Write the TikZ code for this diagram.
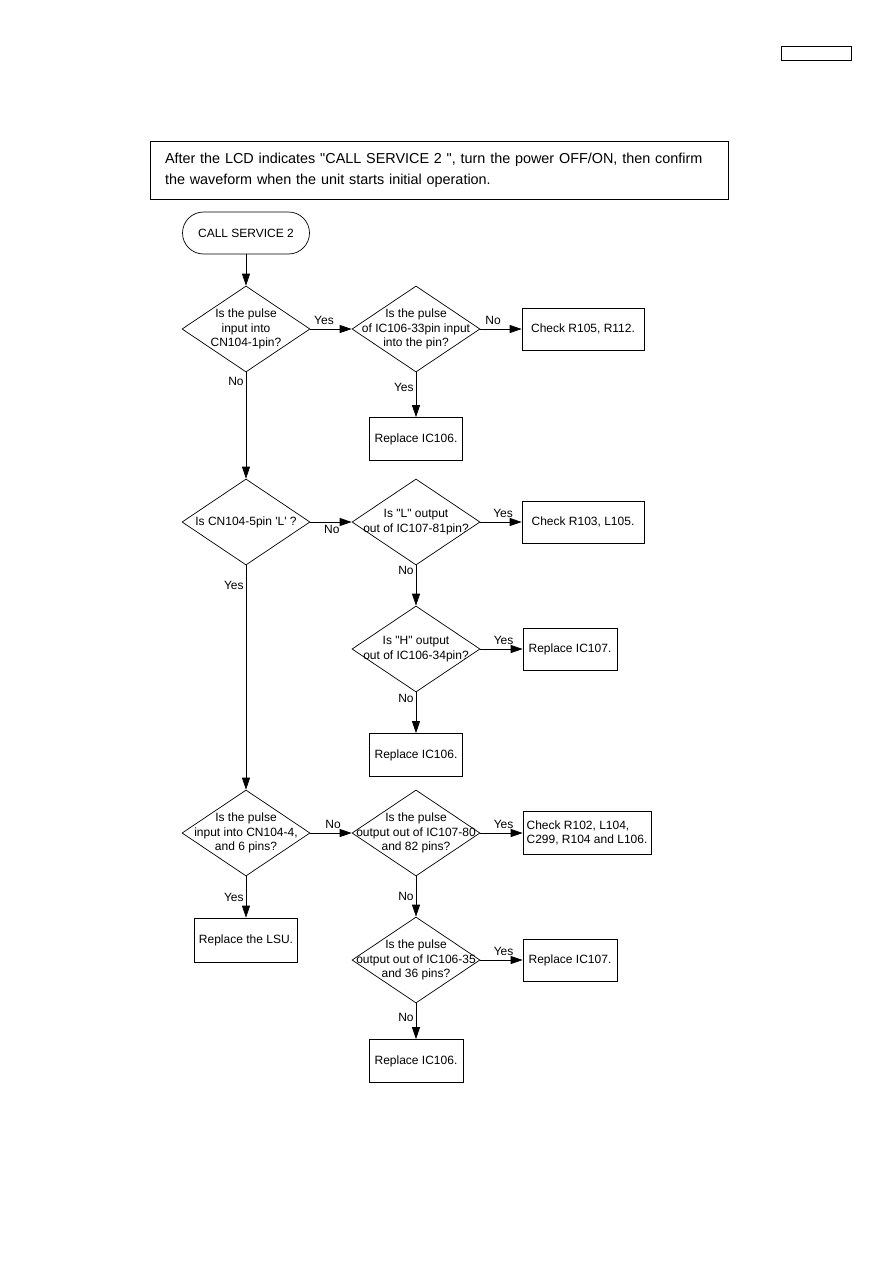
\documentclass[tikz,border=0pt]{standalone}
\usepackage{fontspec}
\setmainfont{Liberation Sans}
\usetikzlibrary{arrows.meta, shapes.geometric}

\begin{document}
\begin{tikzpicture}[x=1pt, y=-1pt, node distance={170pt}, line width=0.7pt,
    decision/.style = {draw, diamond, minimum width=128pt, minimum height=86pt, inner sep=0pt},
    qtext/.style = {align=center, font=\fontsize{12}{14.5}\selectfont, inner sep=0pt},
    box/.style = {draw, rectangle, minimum height=42pt, inner sep=0pt, align=center, font=\fontsize{12}{14.5}\selectfont},
    term/.style = {draw, rectangle, rounded corners=21pt, minimum width=127pt, minimum height=42pt, font=\fontsize{12}{14.5}\selectfont},
    arr/.style = {-{Triangle[length=12pt, width=8pt]}},
    lbl/.style = {font=\fontsize{12}{14}\selectfont, inner sep=2pt}]
    \useasboundingbox (0,0) rectangle (893,1263);

    \node[draw, minimum width=70pt, minimum height=14pt, inner sep=0pt] (pagebox) at (816,53) {};
    \node[draw, text width=548pt, inner xsep=15pt, minimum height=58pt, align=left, font=\fontsize{14.4}{21}\selectfont] (note) at (439,170)
        {After the LCD indicates \textquotedbl CALL SERVICE 2 \textquotedbl, turn the power OFF/ON, then confirm\\the waveform when the unit starts initial operation.};

    \node[term] (start) at (246,233) {CALL SERVICE 2};

    % first row
    \node[decision] (d1) [below of=start, node distance=96pt] {};
    \node[decision] (d2) [right of=d1] {};
    \node[box, minimum width=122pt] (b1) [right of=d2, node distance=167pt] {Check R105, R112.};
    \node[box, minimum width=93pt, minimum height=43pt] (r1) [below of=d2, node distance=110pt] {Replace IC106.};
    \node[qtext] (d1t) at (d1) {Is the pulse\\input into\\CN104-1pin?};
    \node[qtext] (d2t) at (d2) {Is the pulse\\of IC106-33pin input\\into the pin?};

    % second row
    \node[decision] (d3) [below of=d1, node distance=193pt] {};
    \node[decision] (d4) [right of=d3] {};
    \node[box, minimum width=122pt] (b2) [right of=d4, node distance=167pt] {Check R103, L105.};
    \node[decision] (d5) [below of=d4, node distance=127pt] {};
    \node[box, minimum width=94pt] (b3) [right of=d5, node distance=154pt] {Replace IC107.};
    \node[box, minimum width=93pt, minimum height=43pt] (r2) [below of=d5, node distance=106pt] {Replace IC106.};
    \node[qtext] (d3t) at (d3) {Is CN104-5pin \textquotesingle L\textquotesingle\ ?};
    \node[qtext] (d4t) at (d4) {Is \textquotedbl L\textquotedbl\ output\\out of IC107-81pin?};
    \node[qtext] (d5t) at (d5) {Is \textquotedbl H\textquotedbl\ output\\out of IC106-34pin?};

    % third row
    \node[decision] (d6) [below of=d3, node distance=311pt] {};
    \node[decision] (d7) [right of=d6] {};
    \node[box, minimum width=128pt, minimum height=43pt, align=left] (b4) [right of=d7, node distance=171pt] {Check R102, L104,\\C299, R104 and L106.};
    \node[box, minimum width=103pt, minimum height=44pt] (lsu) [below of=d6, node distance=107pt] {Replace the LSU.};
    \node[decision] (d8) [below of=d7, node distance=127pt] {};
    \node[box, minimum width=94pt] (b5) [right of=d8, node distance=154pt] {Replace IC107.};
    \node[box, minimum width=94pt, minimum height=43pt] (r3) [below of=d8, node distance=101pt] {Replace IC106.};
    \node[qtext] (d6t) at (d6) {Is the pulse\\input into CN104-4,\\and 6 pins?};
    \node[qtext] (d7t) at (d7) {Is the pulse\\output out of IC107-80\\and 82 pins?};
    \node[qtext] (d8t) at (d8) {Is the pulse\\output out of IC106-35\\and 36 pins?};

    \path[arr] (start) edge (d1);
    \path[arr] (d1) edge node[lbl, above=2pt, pos=.33] {Yes} (d2);
    \path[arr] (d2) edge node[lbl, above=2pt, pos=.31] {No} (b1);
    \path[arr] (d2) edge node[lbl, left, pos=.33] {Yes} (r1);
    \path[arr] (d1) edge node[lbl, left, pos=.09] {No} (d3);

    \path[arr] (d3) edge node[lbl, below=1pt, pos=.52] {No} (d4);
    \path[arr] (d4) edge node[lbl, above=2pt, pos=.55] {Yes} (b2);
    \path[arr] (d4) edge node[lbl, left, pos=.12] {No} (d5);
    \path[arr] (d5) edge node[lbl, above=2pt, pos=.55] {Yes} (b3);
    \path[arr] (d5) edge node[lbl, left, pos=.14] {No} (r2);
    \path[arr] (d3) edge node[lbl, left, pos=.09] {Yes} (d6);

    \path[arr] (d6) edge node[lbl, above=2pt, pos=.55] {No} (d7);
    \path[arr] (d6) edge node[lbl, left, pos=.5] {Yes} (lsu);
    \path[arr] (d7) edge node[lbl, above=2pt, pos=.55] {Yes} (b4);
    \path[arr] (d7) edge node[lbl, left, pos=.5] {No} (d8);
    \path[arr] (d8) edge node[lbl, above=2pt, pos=.55] {Yes} (b5);
    \path[arr] (d8) edge node[lbl, left, pos=.38] {No} (r3);
\end{tikzpicture}
\end{document}
